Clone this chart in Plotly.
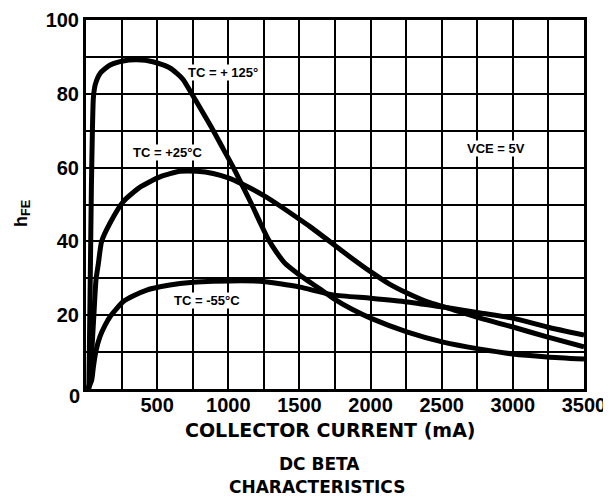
import plotly.graph_objects as go

# Collector current (mA) and hFE for each case temperature
x_125 = [20, 30, 38, 45, 52, 65, 100, 170, 260, 360, 470, 590, 680, 743, 820, 895, 965, 1036, 1094, 1165, 1225, 1282, 1340, 1400, 1480, 1560, 1640, 1740, 1870, 2000, 2260, 2510, 2770, 3000, 3240, 3500]
y_125 = [0, 30, 55, 70, 79, 82.5, 85.6, 87.8, 88.9, 89.2, 88.7, 87, 84, 80, 75, 70, 65, 60, 55.5, 50, 45, 40.5, 37, 34, 31.5, 29.3, 27.2, 24.5, 21.6, 19.2, 15.4, 12.7, 10.8, 9.5, 8.7, 8.1]

x_25 = [15, 28, 40, 56, 70, 87, 110, 169, 262, 380, 520, 661, 780, 893, 1000, 1094, 1250, 1364, 1500, 1574, 1736, 1856, 2000, 2130, 2256, 2400, 2540, 2770, 3000, 3240, 3500]
y_25 = [0, 2, 9.7, 20.5, 29.5, 34, 40, 45, 50.8, 54.7, 57.5, 59, 59, 58.4, 57.2, 55.6, 52.4, 49.6, 46, 44, 39.3, 35.8, 31.8, 28.5, 26, 23.6, 22, 19.2, 16.8, 14.1, 11.4]

x_m55 = [15, 40, 52, 70, 98, 130, 169, 262, 330, 427, 520, 661, 780, 1012, 1223, 1364, 1504, 1736, 2000, 2256, 2510, 2770, 3000, 3240, 3500]
y_m55 = [0, 2.4, 6, 10.3, 14.2, 17, 19.6, 23.7, 25.2, 26.8, 27.7, 28.6, 29, 29.3, 29.2, 28.5, 27.6, 25.5, 24.6, 23.6, 22.2, 20.6, 19.2, 16.8, 14.6]

x_tickvals = list(range(0, 3501, 250))
x_ticktext = [str(v) if (v % 500 == 0 and v > 0) else " " for v in x_tickvals]
y_tickvals = list(range(0, 101, 10))
y_ticktext = [str(v) if (v % 20 == 0 and v > 0) else " " for v in y_tickvals]

labels = [
    (960, 85.8, "TC = + 125°"),
    (570, 64, "TC = +25°C"),
    (851, 24, "TC = -55°C"),
    (2882, 65.3, "VCE = 5V"),
]

fig = go.Figure()
for xs, ys in [(x_125, y_125), (x_25, y_25), (x_m55, y_m55)]:
    fig.add_trace(go.Scatter(x=xs, y=ys, mode="lines",
                             line=dict(color="black", width=5, shape="spline", smoothing=0.6),
                             showlegend=False, hoverinfo="skip"))

for lx, ly, txt in labels:
    fig.add_annotation(x=lx, y=ly, text=txt, showarrow=False,
                       font=dict(family="Liberation Sans", size=13, color="black", weight="bold"),
                       bgcolor="white", borderpad=0)

tick_font = dict(family="Liberation Sans", size=20, color="black", weight="bold")

fig.add_annotation(xref="paper", yref="y", x=0, y=0, xanchor="right", yanchor="top",
                   xshift=-4, yshift=6, text="0", showarrow=False, font=tick_font)

fig.add_annotation(xref="paper", yref="paper", x=-0.128, y=0.475, xanchor="center", yanchor="middle",
                   text="h<sub>FE</sub>", textangle=-90, showarrow=False,
                   font=dict(family="Liberation Sans", size=18, color="black", weight="bold"))

fig.add_annotation(xref="paper", yref="paper", x=0.49, y=-0.075, xanchor="center", yanchor="top",
                   text="COLLECTOR CURRENT (mA)", showarrow=False,
                   font=dict(family="DejaVu Sans", size=19, color="black", weight="bold"))

fig.add_annotation(xref="paper", yref="paper", x=0.468, y=-0.172, xanchor="center", yanchor="top",
                   text="DC BETA", showarrow=False,
                   font=dict(family="DejaVu Sans", size=17, color="black", weight="bold"))
fig.add_annotation(xref="paper", yref="paper", x=0.464, y=-0.233, xanchor="center", yanchor="top",
                   text="CHARACTERISTICS", showarrow=False,
                   font=dict(family="DejaVu Sans", size=17, color="black", weight="bold"))

fig.update_xaxes(range=[0, 3500], tickvals=x_tickvals, ticktext=x_ticktext,
                 showgrid=True, gridcolor="black", gridwidth=2, zeroline=False,
                 showline=True, linecolor="black", linewidth=3, mirror=True,
                 ticks="", tickfont=tick_font, ticklabelstandoff=-4, automargin=False)
fig.update_yaxes(range=[0, 100], tickvals=y_tickvals, ticktext=y_ticktext,
                 showgrid=True, gridcolor="black", gridwidth=2, zeroline=False,
                 showline=True, linecolor="black", linewidth=3, mirror=True,
                 ticks="", tickfont=tick_font, automargin=False)

# page body has an 8px margin; size the figure so the plot lands where the reference has it
fig.update_layout(width=603, height=488, margin=dict(l=78, r=27, t=12, b=107, autoexpand=False),
                  plot_bgcolor="white", paper_bgcolor="white")

fig.write_html("out.html")
